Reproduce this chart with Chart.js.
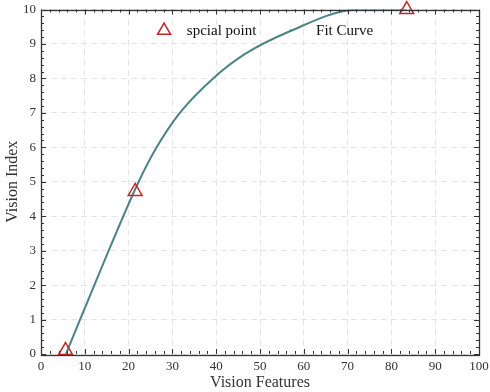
<!DOCTYPE html>
<html><head><meta charset="utf-8">
<script src="https://cdn.jsdelivr.net/npm/chart.js@4/dist/chart.umd.min.js"></script>
<style>html,body{margin:0;padding:0;background:#fff}#wrap{width:490px;height:392px}</style>
</head><body><div id="wrap"><canvas id="c" width="490" height="392"></canvas></div>
<script>
const specialX = [5.6, 21.5, 83.5];
const specialY = [0.1, 4.72, 10];
const fitX = [5.7, 14, 22.3, 26.4, 31.7, 39.3, 46.6, 57.2, 70.5, 75, 83.5];
const fitY = [0, 2.56, 5, 6, 7, 8, 8.71, 9.39, 9.98, 10, 10];
const xTicks = [0,10,20,30,40,50,60,70,80,90,100];
const yTicks = [0,1,2,3,4,5,6,7,8,9,10];
const legendLabels = ["spcial point", "Fit Curve"];
const axisTitles = {x: "Vision Features", y: "Vision Index"};

const RED = '#c0282a', TEAL = '#4c8385', FONT = '"Liberation Serif", "DejaVu Serif", serif';

const framePlugin = {
  id: 'frame',
  afterDatasetsDraw(chart) {
    const ctx = chart.ctx, a = chart.chartArea, xs = chart.scales.x, ys = chart.scales.y;
    ctx.save();
    ctx.strokeStyle = '#333'; ctx.lineWidth = 1;
    ctx.beginPath();
    for (let v = xs.min; v <= xs.max + 1e-9; v += 2) {
      const px = Math.round(xs.getPixelForValue(v)) + 0.5;
      const len = (Math.abs(v % 10) < 1e-9) ? 5 : 3;
      ctx.moveTo(px, a.bottom); ctx.lineTo(px, a.bottom - len);
      ctx.moveTo(px, a.top); ctx.lineTo(px, a.top + len);
    }
    for (let i = 0; i <= 50; i++) {
      const v = ys.min + i * 0.2;
      const py = Math.round(ys.getPixelForValue(v)) + 0.5;
      const len = (i % 5 === 0) ? 5 : 3;
      ctx.moveTo(a.left, py); ctx.lineTo(a.left + len, py);
      ctx.moveTo(a.right, py); ctx.lineTo(a.right - len, py);
    }
    ctx.stroke();
    ctx.lineWidth = 1.3;
    ctx.strokeRect(Math.round(a.left)+0.5, Math.round(a.top)+0.5, Math.round(a.right - a.left), Math.round(a.bottom - a.top));
    const w = a.right - a.left, h = a.bottom - a.top;
    const ly = a.top + h * 0.061;
    const tx = a.left + w * 0.281;
    ctx.strokeStyle = RED; ctx.lineWidth = 1.5;
    const r = 7.5;
    ctx.beginPath();
    ctx.moveTo(tx, ly - r);
    ctx.lineTo(tx + r * 0.866, ly + r * 0.5);
    ctx.lineTo(tx - r * 0.866, ly + r * 0.5);
    ctx.closePath(); ctx.stroke();
    ctx.fillStyle = '#111';
    ctx.font = '15px ' + FONT;
    ctx.textBaseline = 'middle';
    ctx.fillText(legendLabels[0], a.left + w * 0.333, ly + 1);
    ctx.fillStyle = TEAL;
    ctx.fillRect(a.left + w * 0.57 - 1, ly - 1, 2, 2);
    ctx.fillStyle = '#111';
    ctx.fillText(legendLabels[1], a.left + w * 0.628, ly + 1);
    ctx.restore();
  }
};

new Chart(document.getElementById('c'), {
  type: 'scatter',
  data: {
    datasets: [
      {
        label: legendLabels[1],
        data: fitX.map((x, i) => ({x, y: fitY[i]})),
        showLine: true, borderColor: TEAL, borderWidth: 2, pointRadius: 0,
        cubicInterpolationMode: 'monotone', fill: false, order: 2
      },
      {
        label: legendLabels[0],
        data: specialX.map((x, i) => ({x, y: specialY[i]})),
        pointStyle: 'triangle', pointRadius: 8, pointBorderColor: RED, pointBorderWidth: 1.5,
        pointBackgroundColor: 'rgba(0,0,0,0)', showLine: false, clip: false, order: 1
      }
    ]
  },
  options: {
    responsive: false, animation: false, devicePixelRatio: 1,
    layout: {padding: {top: 9, right: 11, left: 3, bottom: 0}},
    plugins: {legend: {display: false}, tooltip: {enabled: false}},
    scales: {
      x: {
        type: 'linear', min: 0, max: 100,
        afterBuildTicks: s => { s.ticks = xTicks.map(v => ({value: v})); },
        afterFit: s => { s.height = 38; s.paddingLeft = 0; s.paddingRight = 0; },
        ticks: {font: {family: FONT, size: 13}, color: '#333', padding: 5, maxRotation: 0},
        grid: {color: '#e4e4e4', lineWidth: 1, drawTicks: false},
        border: {display: false, dash: [6, 4]},
        title: {display: true, text: axisTitles.x, font: {family: FONT, size: 16}, color: '#333', padding: {top: 3, bottom: 0}}
      },
      y: {
        type: 'linear', min: 0, max: 10,
        afterBuildTicks: s => { s.ticks = yTicks.map(v => ({value: v})); },
        afterFit: s => { s.width = 38; s.paddingTop = 0; s.paddingBottom = 0; },
        ticks: {font: {family: FONT, size: 13}, color: '#333', padding: 5},
        grid: {color: '#e4e4e4', lineWidth: 1, drawTicks: false},
        border: {display: false, dash: [6, 4]},
        title: {display: true, text: axisTitles.y, font: {family: FONT, size: 16}, color: '#333', padding: {top: 0, bottom: 0}}
      }
    }
  },
  plugins: [framePlugin]
});
</script></body></html>
